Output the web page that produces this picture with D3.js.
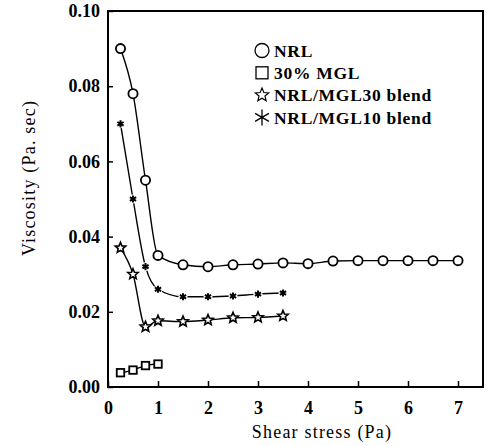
<!DOCTYPE html>
<html><head><meta charset="utf-8">
<script src="https://cdn.jsdelivr.net/npm/d3@7"></script>
<style>body{margin:0;background:#fff}</style>
</head><body>
<svg id="c" width="487" height="446"></svg>
<script>
const xNRL = [0.25,0.5,0.75,1.0,1.5,2.0,2.5,3.0,3.5,4.0,4.5,5.0,5.5,6.0,6.5,7.0];
const yNRL = [0.090,0.078,0.055,0.035,0.0325,0.032,0.0325,0.0327,0.033,0.0328,0.0335,0.0336,0.0336,0.0336,0.0336,0.0336];
const xMGL = [0.25,0.5,0.75,1.0];
const yMGL = [0.0038,0.0045,0.0057,0.0061];
const xB30 = [0.25,0.5,0.75,1.0,1.5,2.0,2.5,3.0,3.5];
const yB30 = [0.037,0.030,0.016,0.0176,0.0174,0.0178,0.0184,0.0185,0.0189];
const xB10 = [0.25,0.5,0.75,1.0,1.5,2.0,2.5,3.0,3.5];
const yB10 = [0.070,0.050,0.032,0.026,0.024,0.024,0.0242,0.0247,0.025];
const xTicks = [0,1,2,3,4,5,6,7];
const yTicks = [0,0.02,0.04,0.06,0.08,0.10];
const legendLabels = ["NRL","30%  MGL","NRL/MGL30  blend","NRL/MGL10  blend"];

const svg = d3.select("#c");
const font = "'Liberation Serif','DejaVu Serif',serif";
const L=108, R=483, T=11, B=387;
const x = d3.scaleLinear().domain([0,7.5]).range([L,R]);
const y = d3.scaleLinear().domain([0,0.10]).range([B,T]);

svg.append("rect").attr("x",L).attr("y",T).attr("width",R-L).attr("height",B-T)
  .attr("fill","none").attr("stroke","#000").attr("stroke-width",2);

const xa = svg.append("g").attr("transform",`translate(0,${B})`)
  .call(d3.axisBottom(x).tickValues(xTicks).tickSize(-6).tickPadding(14).tickFormat(d3.format("d")));
const ya = svg.append("g").attr("transform",`translate(${L},0)`)
  .call(d3.axisLeft(y).tickValues(yTicks).tickSize(-5).tickPadding(8).tickFormat(d3.format(".2f")));
[xa,ya].forEach(a=>{
  a.select(".domain").remove();
  a.selectAll("line").attr("stroke","#000").attr("stroke-width",1.5);
  a.selectAll("text").attr("font-family",font).attr("font-size",18).attr("font-weight","bold").attr("fill","#000");
});
xa.selectAll("text").attr("dy","0.71em");

svg.append("text").attr("x",322).attr("y",438).attr("text-anchor","middle")
  .attr("font-family",font).attr("font-size",18).attr("letter-spacing",1.2).text("Shear  stress (Pa)");
svg.append("text").attr("transform","translate(35,178) rotate(-90)").attr("text-anchor","middle")
  .attr("font-family",font).attr("font-size",18).attr("letter-spacing",1.2).text("Viscosity (Pa.  sec)");

const line = d3.line().x(d=>x(d[0])).y(d=>y(d[1])).curve(d3.curveMonotoneX);
function series(xs, ys){ return xs.map((v,i)=>[v, ys[i]]); }
const sNRL = series(xNRL,yNRL), sMGL=series(xMGL,yMGL), sB30=series(xB30,yB30), sB10=series(xB10,yB10);
[sNRL,sMGL,sB30,sB10].forEach(s=>{
  svg.append("path").attr("d",line(s)).attr("fill","none").attr("stroke","#000").attr("stroke-width",1.4);
});

function starPath(r){
  let p=[];
  for(let i=0;i<10;i++){
    const a=-Math.PI/2+i*Math.PI/5, rr=i%2?r*0.45:r;
    p.push([rr*Math.cos(a), rr*Math.sin(a)]);
  }
  return "M"+p.map(q=>q.join(",")).join("L")+"Z";
}
function astPath(r){
  let s="";
  for(let i=0;i<3;i++){
    const a=Math.PI/2+i*Math.PI/3;
    s+=`M${r*Math.cos(a)},${r*Math.sin(a)}L${-r*Math.cos(a)},${-r*Math.sin(a)}`;
  }
  return s;
}
function drawMarker(g, type, cx, cy, big){
  if(type==="circle"){
    g.append("circle").attr("cx",cx).attr("cy",cy).attr("r",big?7:4.6)
      .attr("fill","#fff").attr("stroke","#000").attr("stroke-width",big?1.3:1.8);
  } else if(type==="square"){
    const s=big?12:7.5;
    g.append("rect").attr("x",cx-s/2).attr("y",cy-s/2).attr("width",s).attr("height",s)
      .attr("fill","#fff").attr("stroke","#000").attr("stroke-width",big?1.3:1.8);
  } else if(type==="star"){
    g.append("path").attr("transform",`translate(${cx},${cy})`).attr("d",starPath(big?7:5.5))
      .attr("fill","#fff").attr("stroke","#000").attr("stroke-width",big?1.2:1.6);
  } else {
    if(!big) g.append("circle").attr("cx",cx).attr("cy",cy).attr("r",4.5).attr("fill","#fff");
    g.append("path").attr("transform",`translate(${cx},${cy})`).attr("d",astPath(big?8:3.6))
      .attr("fill","none").attr("stroke","#000").attr("stroke-width",big?1.3:2);
  }
}
const mg = svg.append("g");
sNRL.forEach(d=>drawMarker(mg,"circle",x(d[0]),y(d[1])));
sMGL.forEach(d=>drawMarker(mg,"square",x(d[0]),y(d[1])));
sB30.forEach(d=>drawMarker(mg,"star",x(d[0]),y(d[1])));
sB10.forEach(d=>drawMarker(mg,"ast",x(d[0]),y(d[1])));

const types=["circle","square","star","ast"];
const lg = svg.append("g");
legendLabels.forEach((t,i)=>{
  const cy = 50.5 + i*22.3;
  drawMarker(lg, types[i], 262, cy, true);
  lg.append("text").attr("x",274).attr("y",cy).attr("dy","0.36em")
    .attr("font-family",font).attr("font-size",17.5).attr("font-weight","bold")
    .attr("letter-spacing",0.7).text(t);
});
</script>
</body></html>
